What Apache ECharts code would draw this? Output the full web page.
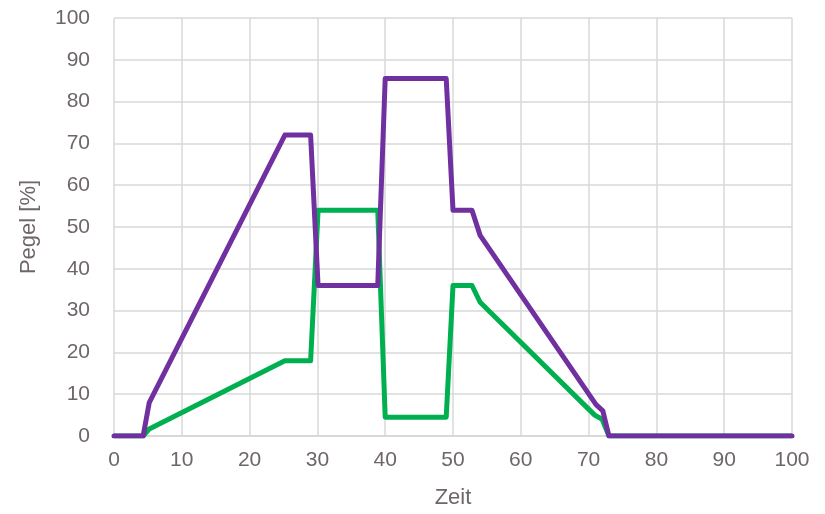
<!DOCTYPE html>
<html><head><meta charset="utf-8">
<script src="https://cdn.jsdelivr.net/npm/echarts@6/dist/echarts.min.js"></script>
<style>html,body{margin:0;padding:0;background:#fff}#c{width:825px;height:514px}</style>
</head><body><div id="c"></div>
<script>
const xTicks = [0,10,20,30,40,50,60,70,80,90,100];
const yTicks = [0,10,20,30,40,50,60,70,80,90,100];
const purpleX = [0,4.3,5.2,25.2,29,30.1,38.9,40,49,50,52.8,54,71.1,72.1,73,100];
const purpleY = [0,0,8,72,72,36,36,85.5,85.5,54,54,48,7.5,6,0,0];
const greenX = [0,4.3,5.2,25.2,29,30.1,38.9,40,49,50,52.8,54,70.9,72,73,100];
const greenY = [0,0,1.7,18,18,54,54,4.5,4.5,36,36,32,5,4,0,0];
const txt = '#6f6767';
const grid = '#d9d9d9';
const chart = echarts.init(document.getElementById('c'));
chart.setOption({
  animation:false,
  grid:{left:114,right:33,top:18,bottom:76},
  xAxis:{type:'value',min:0,max:100,interval:10,
    name:'Zeit',nameLocation:'middle',nameGap:51,
    nameTextStyle:{fontFamily:'Liberation Sans',fontSize:22,color:txt},
    axisLine:{show:true,lineStyle:{color:grid,width:2}},axisTick:{show:false},
    axisLabel:{fontFamily:'Liberation Sans',fontSize:21,color:txt,margin:14,
      formatter:v=>xTicks.includes(v)?String(v):''},
    splitLine:{show:true,lineStyle:{color:grid,width:1.5}}},
  yAxis:{type:'value',min:0,max:100,interval:10,
    name:'Pegel [%]',nameLocation:'middle',nameGap:74,nameRotate:90,
    nameTextStyle:{fontFamily:'Liberation Sans',fontSize:22,color:txt},
    axisLine:{show:false},axisTick:{show:false},
    axisLabel:{fontFamily:'Liberation Sans',fontSize:21,color:txt,margin:24,
      formatter:v=>yTicks.includes(v)?String(v):''},
    splitLine:{show:true,lineStyle:{color:grid,width:1.5}}},
  series:[
    {type:'line',data:greenX.map((x,i)=>[x,greenY[i]]),showSymbol:false,
      lineStyle:{color:'#00b050',width:5,join:'round'},z:2},
    {type:'line',data:purpleX.map((x,i)=>[x,purpleY[i]]),showSymbol:false,
      lineStyle:{color:'#7030a0',width:5,join:'round',cap:'round'},z:3}
  ]
});
</script></body></html>
